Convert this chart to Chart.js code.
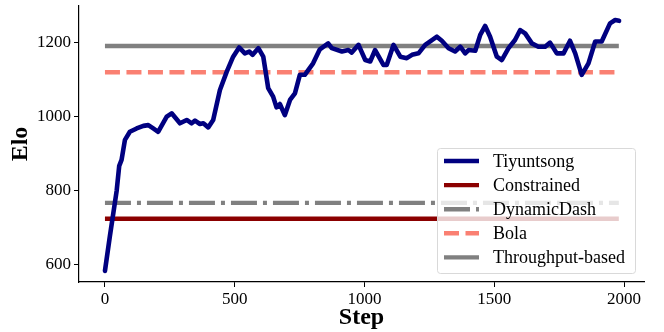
<!DOCTYPE html>
<html>
<head>
<meta charset="utf-8">
<script src="https://cdn.jsdelivr.net/npm/chart.js@4.4.1/dist/chart.umd.min.js"></script>
<style>
  html, body { margin: 0; padding: 0; background: #fff; }
  #wrap { width: 664px; height: 332px; }
</style>
</head>
<body>
<div id="wrap"><canvas id="c" width="664" height="332"></canvas></div>
<script>
// ---- data ----
const tiySteps = [0, 19, 45, 55, 64, 77, 96, 122, 148, 167, 186, 205, 238, 257, 289, 315, 334, 347, 366, 379, 398, 417,
  443, 469, 494, 517, 539, 556, 569, 591, 610, 629, 648, 661, 674, 693, 713, 732, 751, 770, 802, 828, 860, 874,
  913, 938, 951, 977, 1003, 1022, 1041, 1073, 1086, 1112, 1138, 1163, 1183, 1208, 1234, 1260, 1279, 1298, 1324,
  1349, 1369, 1388, 1401, 1427, 1446, 1465, 1484, 1510, 1529, 1555, 1580, 1600, 1619, 1645, 1670, 1696, 1715,
  1741, 1767, 1792, 1812, 1837, 1863, 1889, 1914, 1946, 1966, 1981];
const tiyElo = [584, 678, 800, 868, 884, 938, 960, 969, 976, 978, 969, 960, 1001, 1010, 983, 992, 983, 990, 981, 983, 972, 992,
  1073, 1122, 1163, 1188, 1172, 1177, 1168, 1186, 1163, 1078, 1055, 1026, 1035, 1005, 1046, 1064, 1114, 1114, 1145, 1183, 1199, 1186,
  1177, 1181, 1174, 1195, 1154, 1150, 1181, 1141, 1141, 1195, 1163, 1159, 1168, 1172, 1195, 1208, 1217, 1206, 1186,
  1177, 1190, 1172, 1181, 1179, 1222, 1246, 1217, 1163, 1154, 1186, 1208, 1235, 1226, 1199, 1190, 1190, 1201,
  1172, 1172, 1206, 1172, 1114, 1145, 1204, 1204, 1253, 1262, 1260];

const baseSpan = [0, 1980];            // steps covered by the baselines
const constrainedElo = 725;
const dynamicDashElo = 768;
const bolaElo = 1121;
const throughputElo = 1192;

const xTicks = [0, 500, 1000, 1500, 2000];
const yTicks = [600, 800, 1000, 1200];

const SERIF = "'Liberation Serif', 'DejaVu Serif', serif";

const flat = (v) => baseSpan.map(s => ({ x: s, y: v }));

const datasets = [
  { label: "Tiyuntsong", data: tiySteps.map((s, i) => ({ x: s, y: tiyElo[i] })),
    borderColor: "#000080", borderWidth: 4.6, borderJoinStyle: "round", borderCapStyle: "round" },
  { label: "Constrained", data: flat(constrainedElo), borderColor: "#8b0000", borderWidth: 4.4 },
  { label: "DynamicDash", data: flat(dynamicDashElo), borderColor: "#808080", borderWidth: 4.4,
    borderDash: [26, 6, 4, 6] },
  { label: "Bola", data: flat(bolaElo), borderColor: "#fa8072", borderWidth: 4.4, borderDash: [15, 6.5] },
  { label: "Throughput-based", data: flat(throughputElo), borderColor: "#808080", borderWidth: 4.4 },
];
datasets.forEach(d => { d.pointRadius = 0; d.tension = 0; d.fill = false; });

// ---- legend drawn inside the plot, lower right (matplotlib style) ----
const innerLegend = {
  id: "innerLegend",
  afterDraw(chart) {
    const ctx = chart.ctx;
    const box = { x: 437, y: 148, w: 198, h: 125 };
    ctx.save();
    ctx.beginPath();
    ctx.roundRect(box.x + 0.5, box.y + 0.5, box.w, box.h, 3);
    ctx.fillStyle = "rgba(255,255,255,0.8)";
    ctx.fill();
    ctx.strokeStyle = "#d9d9d9";
    ctx.lineWidth = 1;
    ctx.stroke();
    ctx.font = "18px " + SERIF;
    ctx.textBaseline = "middle";
    ctx.fillStyle = "#000";
    chart.data.datasets.forEach((d, i) => {
      const y = 161 + i * 24.1;
      ctx.beginPath();
      ctx.setLineDash(d.borderDash || []);
      ctx.strokeStyle = d.borderColor;
      ctx.lineWidth = d.borderWidth;
      ctx.moveTo(444, y);
      ctx.lineTo(479, y);
      ctx.stroke();
      ctx.setLineDash([]);
      ctx.fillText(d.label, 493, y + 1);
    });
    ctx.restore();
  }
};

new Chart(document.getElementById("c"), {
  type: "line",
  data: { datasets },
  options: {
    responsive: false,
    animation: false,
    devicePixelRatio: 1,
    layout: { padding: { left: 0, top: 6, right: 20, bottom: 0 } },
    plugins: { legend: { display: false }, tooltip: { enabled: false } },
    scales: {
      x: {
        type: "linear", min: -100, max: 2077,
        afterBuildTicks: (s) => { s.ticks = xTicks.map(v => ({ value: v })); },
        afterFit: (s) => { s.height = 50; s.paddingLeft = 0; s.paddingRight = 0; },
        grid: { display: true, drawOnChartArea: false, drawTicks: true, tickLength: 5, color: "#000" },
        border: { display: true, color: "#000", width: 1.2 },
        ticks: { color: "#000", font: { family: SERIF, size: 17 }, padding: 2, maxRotation: 0,
          callback: (v) => String(v) },
        title: { display: true, text: "Step", color: "#000",
          font: { family: SERIF, size: 24, weight: "bold" }, padding: { top: 0, bottom: 0 } },
      },
      y: {
        type: "linear", min: 554, max: 1300,
        afterBuildTicks: (s) => { s.ticks = yTicks.map(v => ({ value: v })); },
        afterFit: (s) => { s.width = 79; s.paddingTop = 0; s.paddingBottom = 0; },
        grid: { display: true, drawOnChartArea: false, drawTicks: true, tickLength: 5, color: "#000" },
        border: { display: true, color: "#000", width: 1.2 },
        ticks: { color: "#000", font: { family: SERIF, size: 17 }, padding: 3,
          callback: (v) => String(v) },
        title: { display: true, text: "Elo", color: "#000",
          font: { family: SERIF, size: 24, weight: "bold" }, padding: { top: 6, bottom: 0 } },
      },
    },
  },
  plugins: [innerLegend],
});
</script>
</body>
</html>
